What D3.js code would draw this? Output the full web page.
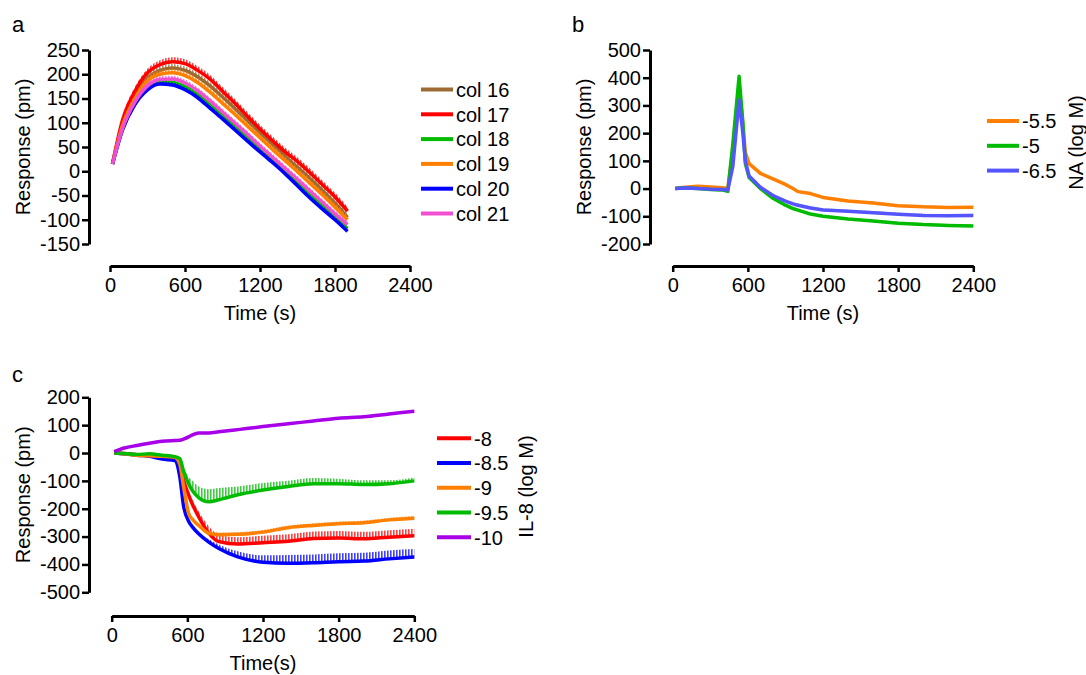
<!DOCTYPE html>
<html>
<head>
<meta charset="utf-8">
<script src="https://cdn.jsdelivr.net/npm/d3@7"></script>
<style>
  body { margin: 0; background: #fff; }
  svg { font-family: Arial, "Liberation Sans", sans-serif; }
</style>
</head>
<body>
<svg id="fig" width="1086" height="675"></svg>
<script>
// ---- data ----
const xTicks = [0, 600, 1200, 1800, 2400];

// panel a
const timeA = [20, 100, 200, 300, 400, 500, 600, 700, 800, 900, 1000, 1100, 1200, 1300, 1400, 1500, 1600, 1700, 1800, 1900];
const namesA = ["col 16", "col 17", "col 18", "col 19", "col 20", "col 21"];
const colorsA = ["#9c6a32", "#ff0000", "#00bb00", "#ff8000", "#0000ff", "#f050d0"];
const col16 = [15, 98, 155, 192, 208, 213, 208, 195, 176, 153, 129, 104, 79, 55, 31, 8, -15, -40, -66, -95];
const col17 = [15, 105, 165, 203, 220, 226, 222, 208, 190, 165, 140, 113, 87, 63, 40, 20, -3, -28, -53, -82];
const col18 = [15, 86, 140, 172, 184, 183, 174, 158, 136, 114, 91, 68, 45, 22, -1, -25, -49, -72, -95, -118];
const col19 = [15, 94, 150, 186, 200, 203, 197, 183, 163, 140, 117, 93, 69, 45, 22, -1, -25, -49, -74, -100];
const col20 = [15, 85, 138, 168, 180, 178, 168, 152, 130, 108, 85, 62, 40, 18, -5, -30, -55, -78, -100, -124];
const col21 = [15, 88, 143, 176, 189, 190, 182, 166, 145, 122, 99, 76, 52, 29, 6, -17, -41, -64, -88, -110];
const semA = [8, 9, 5, 8, 5, 7];
const yTicksA = [-150, -100, -50, 0, 50, 100, 150, 200, 250];

// panel b
const timeB = [20, 100, 200, 300, 400, 440, 480, 530, 560, 580, 610, 700, 800, 900, 960, 1000, 1100, 1200, 1400, 1600, 1800, 2000, 2200, 2400];
const namesB = ["-5.5", "-5", "-6.5"];
const colorsB = ["#ff7f00", "#00bb00", "#5555ff"];
const na55 = [0, 5, 8, 6, 3, 0, 140, 370, 230, 130, 90, 55, 35, 15, 0, -11, -18, -32, -45, -52, -62, -66, -68, -67];
const na50 = [0, 3, 0, -3, -5, -10, 160, 405, 240, 90, 40, 0, -35, -60, -72, -78, -92, -100, -110, -117, -125, -130, -133, -135];
const na65 = [0, 2, 0, -2, -3, -5, 80, 320, 200, 100, 45, 5, -25, -45, -55, -60, -70, -77, -82, -87, -93, -97, -98, -97];
const semB = [4, 5, 6];
const yTicksB = [-200, -100, 0, 100, 200, 300, 400, 500];

// panel c
const timeC = [20, 100, 200, 300, 400, 500, 540, 570, 610, 640, 690, 770, 850, 1000, 1200, 1400, 1600, 1800, 2000, 2200, 2400];
const namesC = ["-8", "-8.5", "-9", "-9.5", "-10"];
const colorsC = ["#ff0000", "#0000ff", "#ff8000", "#00bb00", "#a800e8"];
const il80 = [0, -2, -6, -10, -14, -18, -30, -97, -150, -184, -229, -288, -318, -327, -322, -317, -307, -305, -308, -302, -297];
const il85 = [0, -3, -8, -12, -22, -27, -85, -190, -245, -265, -290, -320, -343, -373, -392, -396, -394, -390, -388, -380, -373];
const il90 = [0, -3, -8, -10, -12, -15, -40, -121, -216, -238, -260, -288, -293, -292, -284, -268, -260, -254, -250, -240, -234];
const il95 = [0, -2, -5, -3, -8, -13, -20, -65, -110, -135, -160, -175, -168, -150, -133, -120, -110, -110, -113, -110, -100];
const il100 = [5, 18, 27, 35, 42, 45, 46, 50, 58, 65, 72, 72, 76, 84, 95, 105, 115, 125, 130, 140, 150];
const sem80 = [0, 0, 0, 0, 1, 1, 2, 5, 10, 15, 20, 25, 25, 25, 25, 25, 25, 25, 25, 25, 25];
const sem85 = [0, 0, 0, 0, 1, 1, 2, 3, 4, 5, 6, 10, 15, 20, 25, 30, 30, 30, 30, 30, 28];
const sem90 = [0, 0, 0, 0, 1, 1, 2, 3, 4, 5, 6, 7, 8, 8, 8, 8, 8, 8, 8, 8, 8];
const sem95 = [0, 0, 1, 1, 1, 1, 2, 10, 25, 35, 40, 45, 42, 30, 25, 20, 20, 18, 15, 12, 12];
const sem100 = [3, 3, 3, 3, 3, 3, 3, 3, 3, 3, 3, 3, 3, 3, 3, 3, 3, 3, 3, 3, 3];
const yTicksC = [-500, -400, -300, -200, -100, 0, 100, 200];

const svg = d3.select("#fig");
const defs = svg.append("defs");

function hatch(id, color) {
    const p = defs.append("pattern")
        .attr("id", id)
        .attr("patternUnits", "userSpaceOnUse")
        .attr("width", 3)
        .attr("height", 6);
    p.append("rect")
        .attr("x", 0).attr("y", 0)
        .attr("width", 1.6).attr("height", 6)
        .attr("fill", color)
        .attr("opacity", 0.75);
}

function panel(p) {
    const g = svg.append("g");
    const x = d3.scaleLinear().domain([0, 2400]).range([p.x0, p.x1]);
    const y = d3.scaleLinear().domain(p.yDomain).range([p.yBottom, p.yTop]);

    const yAxis = g.append("g")
        .attr("transform", `translate(${p.axisX},0)`)
        .call(d3.axisLeft(y).tickValues(p.yTicks).tickSize(7).tickPadding(2).tickSizeOuter(0)
            .tickFormat(d => String(d)));
    const xAxis = g.append("g")
        .attr("transform", `translate(0,${p.axisY})`)
        .call(d3.axisBottom(x).tickValues(xTicks).tickSize(6).tickPadding(5.5).tickSizeOuter(0)
            .tickFormat(d => String(d)));
    [yAxis, xAxis].forEach(a => {
        a.select(".domain").attr("stroke", "#000").attr("stroke-width", 3);
        a.selectAll(".tick line").attr("stroke", "#000").attr("stroke-width", 2.5);
        a.selectAll(".tick text").attr("fill", "#000").style("font-size", "20px")
            .style("font-family", "Arial, 'Liberation Sans', sans-serif");
    });

    p.series.forEach((s, i) => {
        const id = `hatch-${p.key}-${i}`;
        hatch(id, s.color);
        const pts = p.time.map((t, k) => ({ t: t, v: s.values[k], e: s.sem[k] }));
        g.append("path")
            .datum(pts)
            .attr("fill", `url(#${id})`)
            .attr("d", d3.area().curve(p.curve)
                .x(d => x(d.t)).y0(d => y(d.v)).y1(d => y(d.v + d.e)));
        g.append("path")
            .datum(pts)
            .attr("fill", "none")
            .attr("stroke", s.color)
            .attr("stroke-width", 3.5)
            .attr("stroke-linejoin", "round")
            .attr("d", d3.line().curve(p.curve).x(d => x(d.t)).y(d => y(d.v)));
    });

    // legend
    p.series.forEach((s, i) => {
        const ly = p.legY + i * p.legDy;
        g.append("line")
            .attr("x1", p.legX0).attr("x2", p.legX1)
            .attr("y1", ly).attr("y2", ly)
            .attr("stroke", s.color).attr("stroke-width", 4);
        g.append("text")
            .attr("x", p.legX1 + 3).attr("y", ly)
            .attr("dy", "0.36em")
            .style("font-size", "20px")
            .text(s.name);
    });
    if (p.legTitle) {
        g.append("text")
            .attr("transform", `translate(${p.legTitle.x},${p.legTitle.y}) rotate(-90)`)
            .attr("text-anchor", "middle")
            .style("font-size", "20px")
            .text(p.legTitle.text);
    }

    // axis titles and panel letter
    g.append("text")
        .attr("transform", `translate(${p.yLabelX},${(p.yTop + p.yBottom) / 2}) rotate(-90)`)
        .attr("text-anchor", "middle")
        .style("font-size", "20px")
        .text("Response (pm)");
    g.append("text")
        .attr("x", (p.x0 + p.x1) / 2).attr("y", p.axisY + 54)
        .attr("text-anchor", "middle")
        .style("font-size", "20px")
        .text(p.xLabel);
    g.append("text")
        .attr("x", p.letterX).attr("y", p.letterY)
        .style("font-size", "22px")
        .text(p.key);
}

panel({
    key: "a", letterX: 12, letterY: 32,
    x0: 110, x1: 410, axisY: 266, axisX: 89,
    yDomain: [-150, 250], yBottom: 244, yTop: 50, yTicks: yTicksA, yLabelX: 30,
    xLabel: "Time (s)", curve: d3.curveMonotoneX, time: timeA,
    legX0: 421, legX1: 453, legY: 89.5, legDy: 24.8,
    series: [col16, col17, col18, col19, col20, col21].map((v, i) =>
        ({ name: namesA[i], color: colorsA[i], values: v, sem: timeA.map(() => semA[i]) }))
});

panel({
    key: "b", letterX: 572, letterY: 32,
    x0: 672.7, x1: 973.3, axisY: 266, axisX: 650,
    yDomain: [-200, 500], yBottom: 244, yTop: 50, yTicks: yTicksB, yLabelX: 591,
    xLabel: "Time (s)", curve: d3.curveLinear, time: timeB,
    legX0: 987, legX1: 1019, legY: 121, legDy: 24.8,
    legTitle: { text: "NA (log M)", x: 1083, y: 142.5 },
    series: [na55, na50, na65].map((v, i) =>
        ({ name: namesB[i], color: colorsB[i], values: v, sem: timeB.map(() => semB[i]) }))
});

panel({
    key: "c", letterX: 12, letterY: 382,
    x0: 111.7, x1: 414.3, axisY: 616, axisX: 89,
    yDomain: [-500, 200], yBottom: 592.3, yTop: 397.3, yTicks: yTicksC, yLabelX: 30,
    xLabel: "Time(s)", curve: d3.curveMonotoneX, time: timeC,
    legX0: 437, legX1: 471, legY: 438.3, legDy: 24.75,
    legTitle: { text: "IL-8 (log M)", x: 533, y: 486.5 },
    series: [il80, il85, il90, il95, il100].map((v, i) =>
        ({ name: namesC[i], color: colorsC[i], values: v, sem: [sem80, sem85, sem90, sem95, sem100][i] }))
});
</script>
</body>
</html>
